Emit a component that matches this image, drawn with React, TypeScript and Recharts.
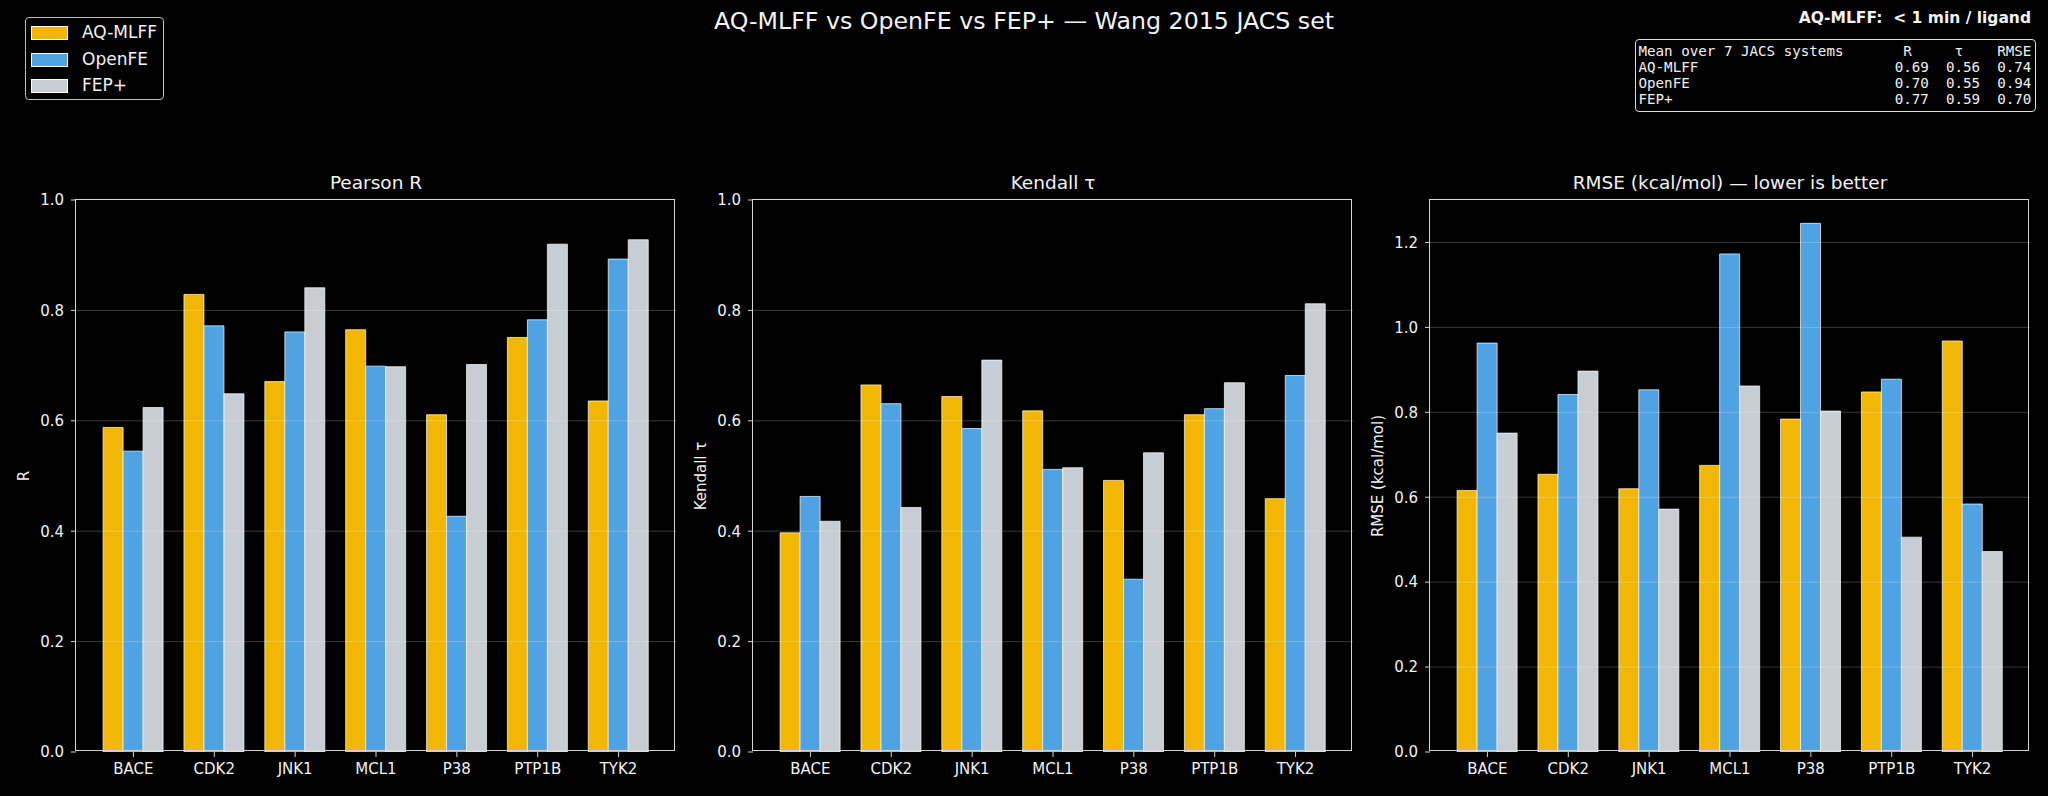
import React from 'react';
import { BarChart, Bar, XAxis, YAxis, ReferenceLine } from 'recharts';

const categories = ['BACE', 'CDK2', 'JNK1', 'MCL1', 'P38', 'PTP1B', 'TYK2'];
const seriesNames = ['AQ-MLFF', 'OpenFE', 'FEP+'];
const seriesColors = ['#F2B705', '#4FA3E2', '#C8CDD4'];

const pearsonAQ = [0.588, 0.829, 0.671, 0.765, 0.611, 0.751, 0.636];
const pearsonOpenFE = [0.545, 0.772, 0.761, 0.699, 0.427, 0.783, 0.893];
const pearsonFEP = [0.624, 0.649, 0.841, 0.698, 0.702, 0.920, 0.928];

const kendallAQ = [0.397, 0.665, 0.644, 0.618, 0.492, 0.611, 0.459];
const kendallOpenFE = [0.463, 0.631, 0.586, 0.512, 0.313, 0.622, 0.682];
const kendallFEP = [0.418, 0.443, 0.710, 0.515, 0.542, 0.669, 0.812];

const rmseAQ = [0.616, 0.654, 0.620, 0.675, 0.784, 0.848, 0.968];
const rmseOpenFE = [0.963, 0.842, 0.853, 1.173, 1.245, 0.878, 0.584];
const rmseFEP = [0.751, 0.897, 0.572, 0.862, 0.803, 0.506, 0.472];

const corrTicks = [0, 0.2, 0.4, 0.6, 0.8, 1.0];
const rmseTicks = [0, 0.2, 0.4, 0.6, 0.8, 1.0, 1.2];

const tableLines = [
  'Mean over 7 JACS systems       R     τ    RMSE',
  'AQ-MLFF                       0.69  0.56  0.74',
  'OpenFE                        0.70  0.55  0.94',
  'FEP+                          0.77  0.59  0.70',
];

const FONT = '"DejaVu Sans", sans-serif';
const SPINE = '#d4d4d4';
const TEXT = '#f2f2f2';

const PLOT_W = 600;
const PLOT_H = 552;
const PLOT_TOP = 200;
const Y_AXIS_W = 70;
const M_TOP = 10;
const M_RIGHT = 10;
const X_AXIS_H = 40;

function buildData(a: number[], b: number[], c: number[]) {
  return categories.map((name, i) => ({ name, aq: a[i], openfe: b[i], fep: c[i] }));
}

type PanelProps = {
  plotLeft: number;
  title: string;
  ylabel: string;
  data: { name: string; aq: number; openfe: number; fep: number }[];
  domain: [number, number];
  ticks: number[];
};

function Panel({ plotLeft, title, ylabel, data, domain, ticks }: PanelProps) {
  const chartW = Y_AXIS_W + PLOT_W + M_RIGHT;
  const chartH = M_TOP + PLOT_H + X_AXIS_H + 5;
  const gridTicks = ticks.filter((t) => t > 0 && t < domain[1] - 1e-9);
  const tickStyle = { fill: TEXT, fontSize: 15, fontFamily: FONT };
  return (
    <>
      <div
        style={{
          position: 'absolute',
          left: plotLeft,
          width: PLOT_W,
          top: 172,
          lineHeight: '22px',
          textAlign: 'center',
          fontFamily: FONT,
          fontSize: 18.5,
          color: TEXT,
        }}
      >
        {title}
      </div>
      <div
        style={{
          position: 'absolute',
          left: plotLeft - 52 - 150,
          top: PLOT_TOP + PLOT_H / 2 - 10,
          width: 300,
          lineHeight: '20px',
          textAlign: 'center',
          fontFamily: FONT,
          fontSize: 15,
          color: TEXT,
          transform: 'rotate(-90deg)',
          transformOrigin: '50% 50%',
          whiteSpace: 'pre',
        }}
      >
        {ylabel}
      </div>
      <div style={{ position: 'absolute', left: plotLeft - Y_AXIS_W, top: PLOT_TOP - M_TOP }}>
        <BarChart
          width={chartW}
          height={chartH}
          data={data}
          margin={{ top: M_TOP, right: M_RIGHT, bottom: 5, left: 0 }}
          barCategoryGap="12.5%"
          barGap={0}
        >
          <XAxis
            dataKey="name"
            height={X_AXIS_H}
            padding={{ left: 17, right: 17 }}
            tick={tickStyle}
            tickSize={5}
            tickMargin={6}
            tickLine={{ stroke: SPINE }}
            axisLine={false}
            interval={0}
          />
          <YAxis
            width={Y_AXIS_W}
            domain={domain}
            ticks={ticks}
            type="number"
            allowDataOverflow
            tickFormatter={(v: number) => v.toFixed(1)}
            tick={tickStyle}
            tickSize={5}
            tickMargin={7}
            tickLine={{ stroke: SPINE }}
            axisLine={false}
          />
          <Bar dataKey="aq" name={seriesNames[0]} fill={seriesColors[0]} stroke="#ffffff" strokeWidth={0.7} isAnimationActive={false} />
          <Bar dataKey="openfe" name={seriesNames[1]} fill={seriesColors[1]} stroke="#ffffff" strokeWidth={0.7} isAnimationActive={false} />
          <Bar dataKey="fep" name={seriesNames[2]} fill={seriesColors[2]} stroke="#ffffff" strokeWidth={0.7} isAnimationActive={false} />
          {gridTicks.map((t) => (
            <ReferenceLine key={t} y={t} stroke="#ffffff" strokeOpacity={0.22} strokeWidth={1} />
          ))}
        </BarChart>
      </div>
      <div
        style={{
          position: 'absolute',
          left: plotLeft - 0.6,
          top: PLOT_TOP - 0.6,
          width: PLOT_W,
          height: PLOT_H,
          border: `1.2px solid ${SPINE}`,
          boxSizing: 'border-box',
          pointerEvents: 'none',
        }}
      />
    </>
  );
}

export default function App() {
  const pearsonData = buildData(pearsonAQ, pearsonOpenFE, pearsonFEP);
  const kendallData = buildData(kendallAQ, kendallOpenFE, kendallFEP);
  const rmseData = buildData(rmseAQ, rmseOpenFE, rmseFEP);
  return (
    <div
      style={{
        position: 'fixed',
        left: 0,
        top: 0,
        width: 2048,
        height: 796,
        background: '#000000',
        overflow: 'hidden',
        fontFamily: FONT,
      }}
    >
      <div
        style={{
          position: 'absolute',
          left: 0,
          width: 2048,
          top: 6,
          lineHeight: '30px',
          textAlign: 'center',
          fontSize: 23.7,
          color: TEXT,
        }}
      >
        AQ-MLFF vs OpenFE vs FEP+ — Wang 2015 JACS set
      </div>

      {/* Legend */}
      <div
        style={{
          position: 'absolute',
          left: 25,
          top: 17,
          width: 137,
          height: 81,
          border: '1px solid #bdbdbd',
          borderRadius: 4,
        }}
      >
        {seriesNames.map((n, i) => (
          <div key={n} style={{ position: 'absolute', left: 5, top: 5 + i * 26.5, height: 20, width: 130 }}>
            <div
              style={{
                position: 'absolute',
                left: 0,
                top: 3,
                width: 35,
                height: 12,
                background: seriesColors[i],
                border: '1px solid #ffffff',
              }}
            />
            <div
              style={{
                position: 'absolute',
                left: 51,
                top: -1,
                lineHeight: '20px',
                fontSize: 17,
                color: TEXT,
                whiteSpace: 'pre',
              }}
            >
              {n}
            </div>
          </div>
        ))}
      </div>

      {/* Top-right annotation */}
      <div
        style={{
          position: 'absolute',
          right: 2048 - 2031,
          top: 8,
          lineHeight: '20px',
          fontSize: 15.5,
          fontWeight: 'bold',
          color: TEXT,
          whiteSpace: 'pre',
        }}
      >
        {'AQ-MLFF:  < 1 min / ligand'}
      </div>
      <div
        style={{
          position: 'absolute',
          left: 1635,
          top: 39,
          width: 399,
          height: 71,
          border: '1.5px solid #dcdcdc',
          borderRadius: 4,
        }}
      >
        {tableLines.map((l, i) => (
          <div
            key={i}
            style={{
              position: 'absolute',
              left: 2.5,
              top: 3 + i * 16,
              lineHeight: '16px',
              fontFamily: '"DejaVu Sans Mono", monospace',
              fontSize: 14.2,
              color: TEXT,
              whiteSpace: 'pre',
            }}
          >
            {l}
          </div>
        ))}
      </div>

      <Panel plotLeft={76} title="Pearson R" ylabel="R" data={pearsonData} domain={[0, 1]} ticks={corrTicks} />
      <Panel plotLeft={753} title="Kendall τ" ylabel="Kendall τ" data={kendallData} domain={[0, 1]} ticks={corrTicks} />
      <Panel
        plotLeft={1430}
        title="RMSE (kcal/mol) — lower is better"
        ylabel="RMSE (kcal/mol)"
        data={rmseData}
        domain={[0, 1.3]}
        ticks={rmseTicks}
      />
    </div>
  );
}
